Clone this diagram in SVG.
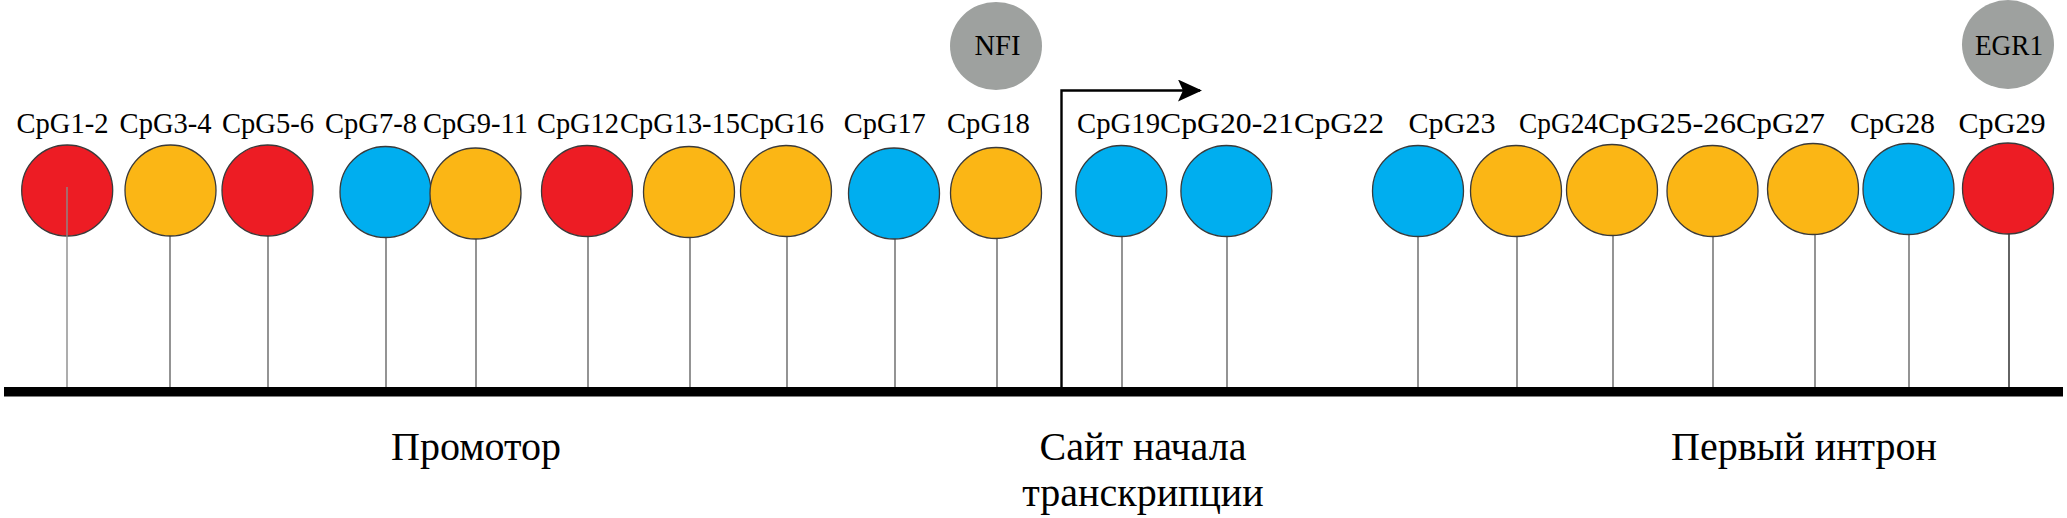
<svg xmlns="http://www.w3.org/2000/svg" width="2067" height="518" viewBox="0 0 2067 518">
<defs>
<style>
text{font-family:'Liberation Serif','Times New Roman','DejaVu Serif',serif;fill:#000}
.lbl{font-size:28.5px}
.big{font-size:40px;text-anchor:middle}
.tf{font-size:30px;text-anchor:middle}
.stem{stroke:#666;stroke-width:1.4;fill:none}
.c{stroke:#3a3a3a;stroke-width:1.3}
.red{fill:#ED1C24}
.org{fill:#FBB615}
.blu{fill:#00AEEF}
.gry{fill:#9EA19F}
</style>
<marker id="ah" viewBox="0 0 24 22" refX="22" refY="11" markerWidth="24" markerHeight="22" markerUnits="userSpaceOnUse" orient="auto">
<path d="M0,0 L24,11 L0,22 L5,11 Z" fill="#000"/>
</marker>
</defs>
<rect width="2067" height="518" fill="#fff"/>
<g id="connectors">
<line class="stem" x1="170" y1="190" x2="170" y2="387"/>
<line class="stem" x1="268" y1="190" x2="268" y2="387"/>
<line class="stem" x1="386" y1="190" x2="386" y2="387"/>
<line class="stem" x1="476" y1="190" x2="476" y2="387"/>
<line class="stem" x1="588" y1="190" x2="588" y2="387"/>
<line class="stem" x1="690" y1="190" x2="690" y2="387"/>
<line class="stem" x1="787" y1="190" x2="787" y2="387"/>
<line class="stem" x1="895" y1="190" x2="895" y2="387"/>
<line class="stem" x1="997" y1="190" x2="997" y2="387"/>
<line class="stem" x1="1122" y1="190" x2="1122" y2="387"/>
<line class="stem" x1="1227" y1="190" x2="1227" y2="387"/>
<line class="stem" x1="1418" y1="190" x2="1418" y2="387"/>
<line class="stem" x1="1517" y1="190" x2="1517" y2="387"/>
<line class="stem" x1="1613" y1="190" x2="1613" y2="387"/>
<line class="stem" x1="1713" y1="190" x2="1713" y2="387"/>
<line class="stem" x1="1815" y1="190" x2="1815" y2="387"/>
<line class="stem" x1="1909" y1="190" x2="1909" y2="387"/>
<line class="stem" x1="2009" y1="190" x2="2009" y2="387" style="stroke:#222"/>
<polyline points="1061.5,388 1061.5,90.5 1200,90.5" fill="none" stroke="#000" stroke-width="2.4" marker-end="url(#ah)"/>
</g>
<g id="dna"><rect x="4" y="387" width="2059" height="9.5" fill="#000"/></g>
<g font-family="Liberation Serif, serif">
<g id="cpg1-2"><circle class="c red" cx="67.2" cy="190.5" r="45.5"/><line class="stem" x1="67" y1="187" x2="67" y2="387" style="stroke:#8a8a8a"/><text class="lbl" x="16.5" y="133" textLength="92" lengthAdjust="spacingAndGlyphs">CpG1-2</text></g>
<g id="cpg3-4"><circle class="c org" cx="170.5" cy="190.5" r="45.5"/><text class="lbl" x="119.6" y="133" textLength="92" lengthAdjust="spacingAndGlyphs">CpG3-4</text></g>
<g id="cpg5-6"><circle class="c red" cx="267.5" cy="190.5" r="45.5"/><text class="lbl" x="222" y="133" textLength="92" lengthAdjust="spacingAndGlyphs">CpG5-6</text></g>
<g id="cpg7-8"><circle class="c blu" cx="385.5" cy="192" r="45.5"/><text class="lbl" x="325" y="133" textLength="92" lengthAdjust="spacingAndGlyphs">CpG7-8</text></g>
<g id="cpg9-11"><circle class="c org" cx="475.5" cy="193.5" r="45.5"/><text class="lbl" x="423" y="133" textLength="105" lengthAdjust="spacingAndGlyphs">CpG9-11</text></g>
<g id="cpg12"><circle class="c red" cx="587" cy="191" r="45.5"/><text class="lbl" x="537" y="133" textLength="82" lengthAdjust="spacingAndGlyphs">CpG12</text></g>
<g id="cpg13-15"><circle class="c org" cx="689" cy="192" r="45.5"/><text class="lbl" x="620" y="133" textLength="120" lengthAdjust="spacingAndGlyphs">CpG13-15</text></g>
<g id="cpg16"><circle class="c org" cx="786" cy="191" r="45.5"/><text class="lbl" x="740" y="133" textLength="84" lengthAdjust="spacingAndGlyphs">CpG16</text></g>
<g id="cpg17"><circle class="c blu" cx="894" cy="193.5" r="45.5"/><text class="lbl" x="843.8" y="133" textLength="82" lengthAdjust="spacingAndGlyphs">CpG17</text></g>
<g id="cpg18"><circle class="c org" cx="996" cy="193" r="45.5"/><text class="lbl" x="946.9" y="133" textLength="83" lengthAdjust="spacingAndGlyphs">CpG18</text></g>
<g id="cpg19"><circle class="c blu" cx="1121.3" cy="191" r="45.5"/><text class="lbl" x="1077" y="133" textLength="83" lengthAdjust="spacingAndGlyphs">CpG19</text></g>
<g id="cpg20-21"><circle class="c blu" cx="1226.4" cy="191" r="45.5"/><text class="lbl" x="1160" y="133" textLength="134" lengthAdjust="spacingAndGlyphs">CpG20-21</text></g>
<g id="cpg22"><text class="lbl" x="1294" y="133" textLength="90" lengthAdjust="spacingAndGlyphs">CpG22</text></g>
<g id="cpg23"><circle class="c blu" cx="1418" cy="191" r="45.5"/><text class="lbl" x="1408.5" y="133" textLength="87" lengthAdjust="spacingAndGlyphs">CpG23</text></g>
<g id="cpg24"><circle class="c org" cx="1516" cy="191" r="45.5"/><text class="lbl" x="1519" y="133" textLength="79" lengthAdjust="spacingAndGlyphs">CpG24</text></g>
<g id="cpg25-26"><circle class="c org" cx="1612" cy="190" r="45.5"/><text class="lbl" x="1598" y="133" textLength="138" lengthAdjust="spacingAndGlyphs">CpG25-26</text></g>
<g id="cpg27"><circle class="c org" cx="1712.5" cy="191" r="45.5"/><text class="lbl" x="1736" y="133" textLength="89" lengthAdjust="spacingAndGlyphs">CpG27</text></g>
<g id="cpg28"><circle class="c org" cx="1813" cy="189" r="45.5"/><text class="lbl" x="1850" y="133" textLength="85" lengthAdjust="spacingAndGlyphs">CpG28</text></g>
<g id="cpg28b"><circle class="c blu" cx="1908.5" cy="189" r="45.5"/></g>
<g id="cpg29"><circle class="c red" cx="2008" cy="188.5" r="45.5"/><text class="lbl" x="1958.5" y="133" textLength="87" lengthAdjust="spacingAndGlyphs">CpG29</text></g>
<g id="nfi"><ellipse class="gry" cx="996" cy="46" rx="46" ry="44"/><text class="tf" x="997.5" y="54.5" textLength="46" lengthAdjust="spacingAndGlyphs">NFI</text></g>
<g id="egr1"><ellipse class="gry" cx="2008" cy="44.5" rx="46" ry="44.5"/><text class="tf" x="2009" y="55" textLength="68" lengthAdjust="spacingAndGlyphs">EGR1</text></g>
<g id="regions">
<text class="big" x="476" y="460">Промотор</text>
<text class="big" x="1143" y="460">Сайт начала</text>
<text class="big" x="1143" y="506">транскрипции</text>
<text class="big" x="1804" y="460">Первый интрон</text>
</g>
</g>
</svg>
